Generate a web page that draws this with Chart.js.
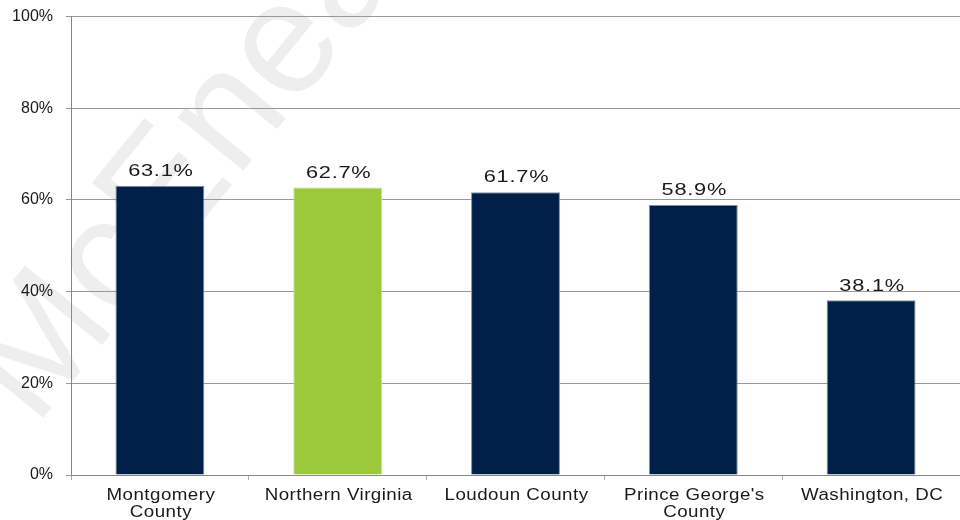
<!DOCTYPE html>
<html>
<head>
<meta charset="utf-8">
<title>Percentage by Area</title>
<script src="https://cdn.jsdelivr.net/npm/chart.js@4/dist/chart.umd.min.js"></script>
<style>
    html, body { margin: 0; padding: 0; background: #fff; overflow: hidden; }
    #wrap { width: 960px; height: 526px; position: relative; top: -6px; }
</style>
</head>
<body>
<div id="wrap"><canvas id="chart"></canvas></div>
<script>
const areas = [
    ['Montgomery', 'County'],
    'Northern Virginia',
    'Loudoun County',
    ["Prince George's", 'County'],
    'Washington, DC'
];
const shares = [63.1, 62.7, 61.7, 58.9, 38.1];
const barColors = ['#00204a', '#9aca3c', '#00204a', '#00204a', '#00204a'];
const edgeColors = ['#8090a8', '#c6dca0', '#8090a8', '#8090a8', '#8090a8'];
const yTicks = [0, 20, 40, 60, 80, 100];

const FONT = '"Liberation Sans", Arial, sans-serif';

// draw text stretched sideways, centred on x
function wideText(ctx, text, x, y, stretch) {
    ctx.save();
    ctx.translate(x, y);
    ctx.scale(stretch, 1);
    ctx.fillText(text, 0, 0);
    ctx.restore();
}

// faint diagonal company mark behind the plot
const watermark = {
    id: 'watermark',
    beforeDraw(chart) {
        const ctx = chart.ctx;
        ctx.save();
        ctx.translate(35, 434);
        ctx.rotate(-51 * Math.PI / 180);
        ctx.font = '160px ' + FONT;
        ctx.fillStyle = 'rgba(0,0,0,0.065)';
        ctx.fillText('McEnearney', 0, 0);
        ctx.restore();
    }
};

// category names under the axis
const areaLabels = {
    id: 'areaLabels',
    afterDraw(chart) {
        const ctx = chart.ctx;
        const x = chart.scales.x;
        const top = chart.chartArea.bottom + 21;
        ctx.save();
        ctx.font = '16px ' + FONT;
        ctx.letterSpacing = '0.4px';
        ctx.fillStyle = '#1a1a1a';
        ctx.textAlign = 'center';
        ctx.textBaseline = 'middle';
        areas.forEach((name, i) => {
            const lines = Array.isArray(name) ? name : [name];
            const cx = x.getPixelForTick(i) + 1;
            lines.forEach((line, j) => {
                wideText(ctx, line, cx, top + j * 17, 1.17);
            });
        });
        ctx.restore();
    }
};

// value labels above each bar
const valueLabels = {
    id: 'valueLabels',
    afterDatasetsDraw(chart) {
        const ctx = chart.ctx;
        const meta = chart.getDatasetMeta(0);
        ctx.save();
        ctx.font = '17px ' + FONT;
        ctx.letterSpacing = '0.6px';
        ctx.fillStyle = '#1a1a1a';
        ctx.textAlign = 'center';
        ctx.textBaseline = 'bottom';
        meta.data.forEach((bar, i) => {
            wideText(ctx, shares[i].toFixed(1) + '%', bar.x + 1, bar.y - 6, 1.28);
        });
        ctx.restore();
    }
};

new Chart(document.getElementById('chart'), {
    type: 'bar',
    data: {
        labels: areas,
        datasets: [{
            data: shares,
            backgroundColor: barColors,
            borderColor: edgeColors,
            borderWidth: 1,
            barPercentage: 0.5,
            categoryPercentage: 1
        }]
    },
    options: {
        responsive: true,
        maintainAspectRatio: false,
        animation: false,
        layout: { padding: { top: 10, right: 0, left: 0, bottom: 0 } },
        plugins: {
            legend: { display: false },
            tooltip: { enabled: false }
        },
        scales: {
            x: {
                grid: { drawOnChartArea: false, drawTicks: true, tickLength: 5, color: '#aaa' },
                border: { color: '#888', width: 1 },
                ticks: {
                    color: 'rgba(0,0,0,0)',
                    font: { family: FONT, size: 16 }
                },
                afterFit: s => { s.height = 45; }
            },
            y: {
                min: 0,
                max: 100,
                afterBuildTicks: s => { s.ticks = yTicks.map(v => ({ value: v })); },
                grid: { color: '#999', tickLength: 5 },
                border: { color: '#888', width: 1 },
                ticks: {
                    color: '#1a1a1a',
                    padding: 13,
                    font: { family: FONT, size: 16 },
                    callback: v => v + '%'
                },
                afterFit: s => { s.width = 71; }
            }
        }
    },
    plugins: [watermark, valueLabels, areaLabels]
});
</script>
</body>
</html>
